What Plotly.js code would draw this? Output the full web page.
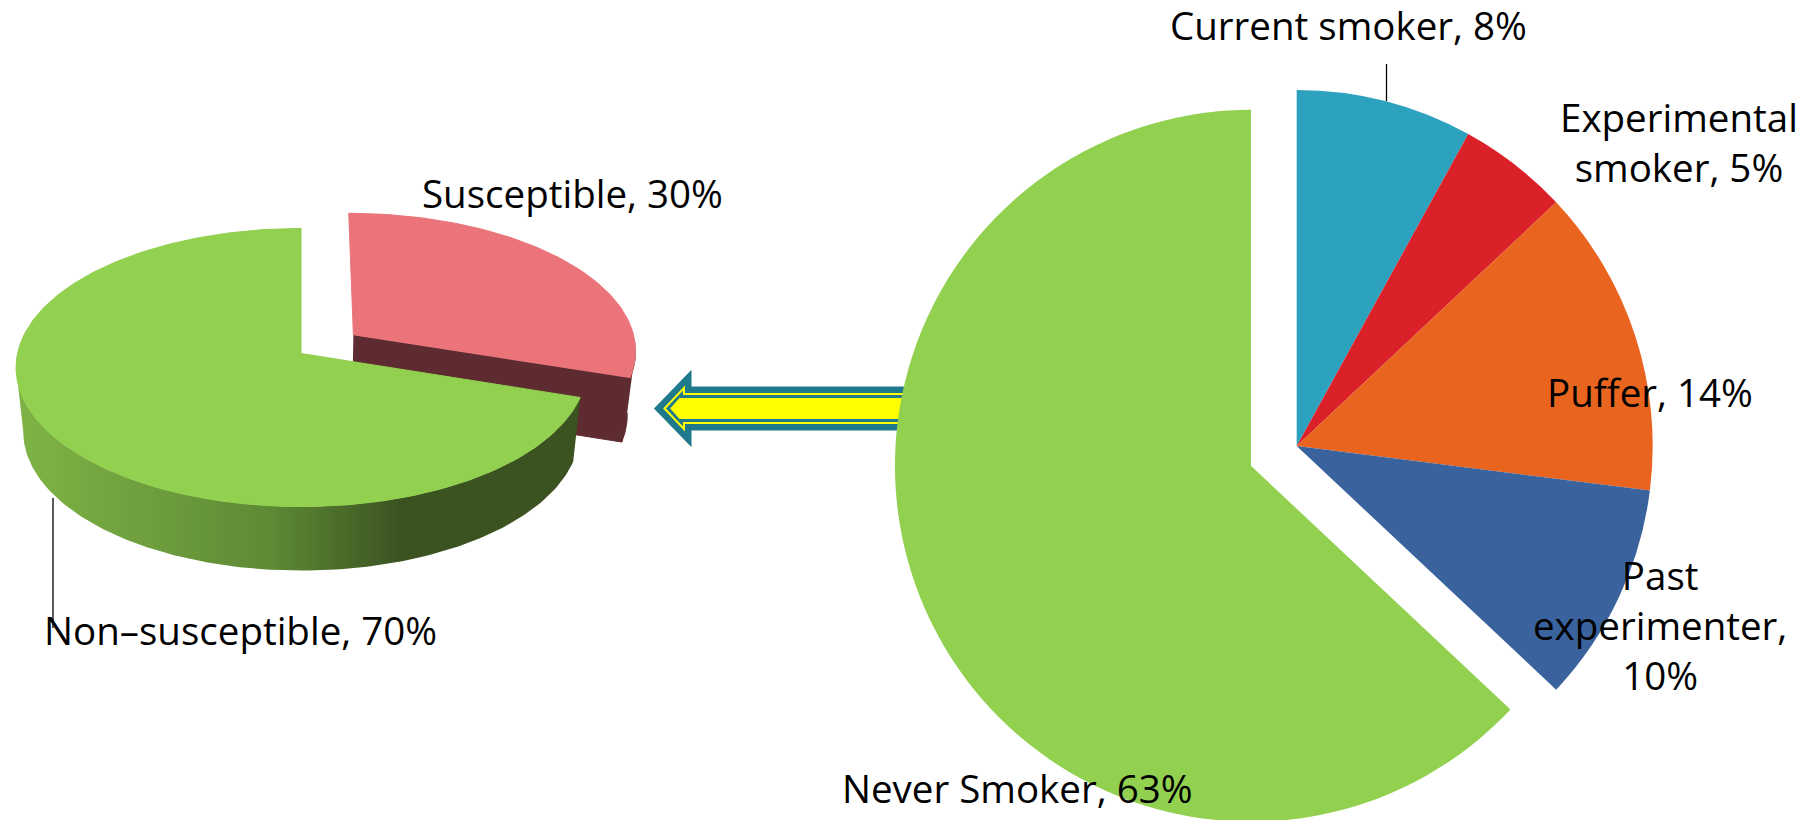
<!DOCTYPE html>
<html>
<head>
<meta charset="utf-8">
<script src="https://cdn.plot.ly/plotly-3.0.1.min.js"></script>
<style>
html, body { margin: 0; padding: 0; overflow: hidden; background: #ffffff; }
#chart { width: 1818px; height: 880px; }
</style>
</head>
<body>
<div id="chart"></div>
<script>
// ---------------- DATA ----------------
const smokingCategories = ['Current smoker', 'Experimental smoker', 'Puffer', 'Past experimenter', 'Never Smoker'];
const smokingValues = [8, 5, 14, 10, 63];
const susceptibilityCategories = ['Susceptible', 'Non\u2013susceptible'];
const susceptibilityValues = [30, 70];

// ---------------- STYLE / LAYOUT ----------------
const W = 1818, H = 880;
const FONT = 'Open Sans, Noto Sans, DejaVu Sans, sans-serif';
const FONT_SIZE = 38.5;
const FONT_WEIGHT = 500;

const smokingColors = ['#2DA2BF', '#DA2029', '#E9651F', '#3A639E', '#92D050'];
const pulledCategory = 'Never Smoker';
const RP = {cx: 1296.7, cy: 446, r: 356, pull: 0.14};

const suscTopColors = ['#EA7479', '#92D050'];
const suscSideColors = ['#5E2B30', null];
const suscSideGradient = [null, [[0, '#80B446'], [0.45, '#5E8A35'], [0.68, '#3B5321'], [1, '#3B5321']]];
const suscExploded = [true, false];
const LP = {cx: 301.5, cy: 353.6, rx: 284, ry: 137.7, persp: 0.1, depth: 64, explode: 0.229, botScale: 0.975};

// label placement (centre of text block, px) and line breaks (words per line)
const smokingLabelPos = [
  {x: 1348, y: 25},
  {x: 1679, y: 142, breaks: [1, 2]},
  {x: 1650, y: 392},
  {x: 1660, y: 625, breaks: [1, 1, 1]},
  {x: 1017, y: 788}
];
const suscLabelPos = [
  {x: 572, y: 193},
  {x: 240, y: 630}
];

// ---------------- HELPERS ----------------
function labelText(name, value, breaks) {
  const words = (name + ', ' + value + '%').split(' ');
  if (!breaks) return words.join(' ');
  const out = [];
  let i = 0;
  for (const n of breaks) { out.push(words.slice(i, i + n).join(' ')); i += n; }
  if (i < words.length) out.push(words.slice(i).join(' '));
  return out.join('<br>');
}

function proj(u, v, dz) {
  const w = 1 + LP.persp * v;
  let x = LP.cx + LP.rx * u / w;
  if (dz) x = LP.cx + (x - LP.cx) * LP.botScale;
  return [x, LP.cy - LP.ry * v / w + (dz || 0)];
}
function rim(deg, off, dz) {
  const t = deg * Math.PI / 180;
  return proj(Math.sin(t) + off[0], Math.cos(t) + off[1], dz);
}
function arc(a0, a1, off, dz) {
  const pts = [];
  const n = Math.max(2, Math.ceil(Math.abs(a1 - a0)));
  for (let k = 0; k <= n; k++) pts.push(rim(a0 + (a1 - a0) * k / n, off, dz));
  return pts;
}
function polyTrace(pts, color, gradient) {
  const t = {
    type: 'scatter', mode: 'lines', fill: 'toself',
    x: pts.map(p => p[0]), y: pts.map(p => p[1]),
    hoverinfo: 'skip', showlegend: false
  };
  if (gradient) {
    t.fillcolor = gradient[Math.floor(gradient.length / 2)][1];
    t.fillgradient = {type: 'horizontal', colorscale: gradient};
    t.line = {width: 0, color: 'rgba(0,0,0,0)'};
  } else {
    t.fillcolor = color;
    t.line = {width: 1, color: color};
  }
  return t;
}

// ---------------- LEFT (3-D) PIE ----------------
const suscTotal = susceptibilityValues.reduce((a, b) => a + b, 0);
let startAng = 0;
const slices = susceptibilityValues.map((val, i) => {
  const a0 = startAng, a1 = startAng + val / suscTotal * 360;
  startAng = a1;
  const mid = (a0 + a1) / 2 * Math.PI / 180;
  const e = suscExploded[i] ? LP.explode : 0;
  return {i, a0, a1, mid, off: [e * Math.sin(mid), e * Math.cos(mid)]};
});
const frontFrom = Math.acos(-LP.persp) * 180 / Math.PI;
const frontTo = 360 - frontFrom;
const leftTraces = [];
slices.slice().sort((a, b) => Math.cos(b.mid) - Math.cos(a.mid)).forEach(s => {
  const side = suscSideColors[s.i], grad = suscSideGradient[s.i];
  const cTop = proj(s.off[0], s.off[1], 0);
  const cBot = proj(s.off[0], s.off[1], LP.depth);
  // outer wall (visible front part)
  const lo = Math.max(s.a0, frontFrom), hi = Math.min(s.a1, frontTo);
  if (hi > lo) {
    const top = arc(lo, hi, s.off, 0);
    const bot = arc(hi, lo, s.off, LP.depth);
    leftTraces.push(polyTrace(top.concat(bot), side, grad));
  }
  // cut face at end edge
  if (Math.sin(s.a1 * Math.PI / 180) > 1e-6) {
    leftTraces.push(polyTrace([cTop, rim(s.a1, s.off, 0), rim(s.a1, s.off, LP.depth), cBot], side || '#3A5220', null));
  }
  // cut face at start edge
  if (Math.sin(s.a0 * Math.PI / 180) < -1e-6) {
    leftTraces.push(polyTrace([cTop, rim(s.a0, s.off, 0), rim(s.a0, s.off, LP.depth), cBot], side || '#3A5220', null));
  }
  // top face
  leftTraces.push(polyTrace([cTop].concat(arc(s.a0, s.a1, s.off, 0)), suscTopColors[s.i], null));
});

// ---------------- RIGHT PIE ----------------
const boxHalf = RP.r * (1 + RP.pull);
const rightPie = {
  type: 'pie',
  labels: smokingCategories,
  values: smokingValues,
  sort: false,
  direction: 'clockwise',
  rotation: 0,
  pull: smokingCategories.map(c => c === pulledCategory ? RP.pull : 0),
  marker: {colors: smokingColors, line: {width: 0}},
  textinfo: 'none',
  hoverinfo: 'label+percent',
  showlegend: false,
  domain: {
    x: [(RP.cx - boxHalf) / W, (RP.cx + boxHalf) / W],
    y: [1 - (RP.cy + boxHalf) / H, 1 - (RP.cy - boxHalf) / H]
  }
};

// ---------------- ARROW (decoration) ----------------
const AR = {tx: 656, cy: 408.5, hx: 690, hh: 35, sh: 20.5, ex: 960};
function arrowPath(d) {
  const r2 = Math.SQRT2;
  const tip = AR.tx + d * r2;
  const hx = AR.hx - d;
  const hh = AR.hh - d * (1 + r2);
  const sh = AR.sh - d;
  const pts = [[tip, AR.cy], [hx, AR.cy - hh], [hx, AR.cy - sh], [AR.ex, AR.cy - sh],
               [AR.ex, AR.cy + sh], [hx, AR.cy + sh], [hx, AR.cy + hh]];
  return 'M' + pts.map(p => p[0].toFixed(1) + ',' + p[1].toFixed(1)).join(' L') + ' Z';
}
const arrowLayers = [
  {d: 0, color: '#1F798B', line: 3},
  {d: 5, color: '#FFFF00', line: 0},
  {d: 7, color: '#1F798B', line: 0},
  {d: 10, color: '#FFFF00', line: 0}
];
const shapes = arrowLayers.map(a => ({
  type: 'path', xref: 'x', yref: 'y', layer: 'below', path: arrowPath(a.d),
  fillcolor: a.color, line: {width: a.line, color: a.color}
}));
// leader lines
shapes.push({type: 'line', xref: 'x', yref: 'y', x0: 1386.5, y0: 64, x1: 1386.5, y1: 101, line: {color: '#000000', width: 1.3}, layer: 'above'});
shapes.push({type: 'line', xref: 'x', yref: 'y', x0: 53, y0: 498, x1: 53, y1: 628, line: {color: '#000000', width: 1.3}, layer: 'above'});

// ---------------- LABELS ----------------
const annotations = [];
function addLabels(cats, vals, pos) {
  cats.forEach((c, i) => {
    const p = pos[i];
    annotations.push({xref: 'x', yref: 'y', x: p.x, y: p.y, text: labelText(c, vals[i], p.breaks),
      showarrow: false, xanchor: 'center', yanchor: 'middle', align: 'center',
      font: {family: FONT, size: FONT_SIZE, color: '#000000', weight: FONT_WEIGHT}});
  });
}
addLabels(smokingCategories, smokingValues, smokingLabelPos);
addLabels(susceptibilityCategories, susceptibilityValues, suscLabelPos);

const layout = {
  width: W, height: H,
  margin: {l: 0, r: 0, t: 0, b: 0, pad: 0},
  paper_bgcolor: '#ffffff', plot_bgcolor: 'rgba(0,0,0,0)',
  showlegend: false,
  xaxis: {range: [0, W], visible: false, fixedrange: true, showgrid: false, zeroline: false},
  yaxis: {range: [H, 0], visible: false, fixedrange: true, showgrid: false, zeroline: false},
  shapes: shapes,
  annotations: annotations
};

Plotly.newPlot('chart', leftTraces.concat([rightPie]), layout, {displayModeBar: false, staticPlot: true});
</script>
</body>
</html>
